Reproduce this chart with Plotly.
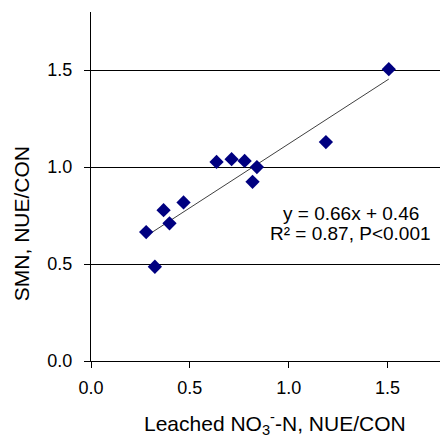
import plotly.graph_objects as go

leached_no3 = [0.279, 0.323, 0.367, 0.397, 0.468, 0.635, 0.711, 0.777, 0.839, 0.817, 1.188, 1.506]
smn = [0.665, 0.486, 0.778, 0.710, 0.818, 1.027, 1.041, 1.032, 1.000, 0.924, 1.129, 1.505]
slope, intercept = 0.66, 0.46
x_ticks = [0.0, 0.5, 1.0, 1.5]
y_ticks = [0.0, 0.5, 1.0, 1.5]

FONT = "Liberation Sans, Arial, sans-serif"

xmin, xmax = min(leached_no3), max(leached_no3)
fig = go.Figure()
fig.add_trace(go.Scatter(
    x=[xmin, xmax], y=[slope * xmin + intercept, slope * xmax + intercept],
    mode="lines", line=dict(color="#404040", width=1), showlegend=False, hoverinfo="skip"))
fig.add_trace(go.Scatter(
    x=leached_no3, y=smn, mode="markers",
    marker=dict(symbol="diamond", size=11, color="#000080", line=dict(width=0)),
    showlegend=False))

fig.add_annotation(
    text="y = 0.66x + 0.46", x=1.314, y=0.760, xref="x", yref="y", showarrow=False,
    xanchor="center", yanchor="middle",
    font=dict(family=FONT, size=19, color="#000000"))
fig.add_annotation(
    text="R² = 0.87, P<0.001", x=1.314, y=0.659, xref="x", yref="y", showarrow=False,
    xanchor="center", yanchor="middle",
    font=dict(family=FONT, size=19, color="#000000"))
fig.add_annotation(
    text="SMN, NUE/CON", textangle=-90,
    x=-0.2006, y=0.395, xref="paper", yref="paper", xanchor="center", yanchor="middle",
    showarrow=False, font=dict(family=FONT, size=21, color="#000000"))
fig.add_annotation(
    text="Leached NO<sub>3</sub><sup>-</sup>-N, NUE/CON",
    x=0.527, y=-0.178, xref="paper", yref="paper", xanchor="center", yanchor="middle",
    showarrow=False, font=dict(family=FONT, size=21, color="#000000"))

fig.update_layout(
    width=440, height=439,
    margin=dict(l=91, r=0, t=12, b=78),
    paper_bgcolor="white", plot_bgcolor="white",
    font=dict(family=FONT, size=18, color="#000000"),
    xaxis=dict(range=[0, 1.765], tickvals=x_ticks, ticktext=[f"{v:.1f}" for v in x_ticks],
               showline=True, linecolor="#000000", linewidth=1, ticks="outside", ticklen=6,
               tickcolor="#000000", showgrid=False, zeroline=False, ticklabelstandoff=4,
               tickfont=dict(family=FONT, size=18, color="#000000")),
    yaxis=dict(range=[0, 1.8], tickvals=y_ticks, ticktext=[f"{v:.1f}" for v in y_ticks],
               showline=True, linecolor="#000000", linewidth=1, ticks="outside", ticklen=6,
               tickcolor="#000000", showgrid=True, gridcolor="#000000", gridwidth=1,
               zeroline=False, ticklabelstandoff=8,
               tickfont=dict(family=FONT, size=18, color="#000000")),
)
fig.write_html("out.html")
